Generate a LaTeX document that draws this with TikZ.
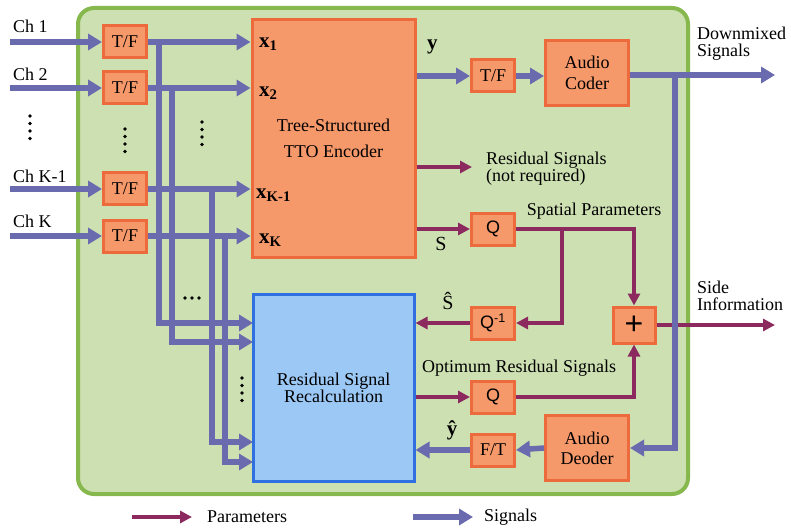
\documentclass[tikz,border=0pt]{standalone}
\usepackage{fontspec}
\setmainfont{Liberation Serif}
\newfontfamily\sansf{Liberation Sans}
\usetikzlibrary{arrows.meta}
\definecolor{sigc}{HTML}{6A6AAF}
\definecolor{parc}{HTML}{8C2A5F}
\definecolor{gfill}{HTML}{CDE0B2}
\definecolor{gborder}{HTML}{86B84E}
\definecolor{ofill}{HTML}{F5986A}
\definecolor{oborder}{HTML}{EC6A3C}
\definecolor{bfill}{HTML}{9CC8F5}
\definecolor{bborder}{HTML}{2F6FE0}
\begin{document}
\begin{tikzpicture}[x=1pt,y=-1pt,font=\fontsize{18}{17}\selectfont,
  sig/.style={draw=sigc,line width=5.5pt,-{Triangle[length=14pt,width=16pt]}},
  par/.style={draw=parc,line width=3.5pt,-{Triangle[length=12pt,width=12pt]}},
  obox/.style={draw=oborder,fill=ofill,line width=3pt,inner sep=0pt,minimum width=43pt,minimum height=32pt},
  bigbox/.style={draw=oborder,fill=ofill,line width=3pt,inner sep=0pt,minimum width=83pt,minimum height=65pt,align=center},
  lbl/.style={inner sep=0pt},
  mlbl/.style={inner sep=0pt,font=\fontsize{21}{21}\selectfont},
  dot/.style={fill=black,draw=none}]
\useasboundingbox (0,0) rectangle (791,529);
% container
\draw[gborder,fill=gfill,line width=4pt,rounded corners=16pt] (78,8) rectangle (688,494);

% main blocks
\node[draw=oborder,fill=ofill,line width=3pt,minimum width=163pt,minimum height=237pt,align=center,inner sep=0pt] (enc) at (333.5,138.5) {Tree-Structured\\[9pt]TTO Encoder};
\node[draw=bborder,fill=bfill,line width=3pt,minimum width=161pt,minimum height=187pt,align=center,inner sep=0pt] (res) at (333.5,387.5) {Residual Signal\\Recalculation};

% T/F input boxes
\node[obox] (tf1) at (125,42) {T/F};
\node[obox] (tf2) at (125,88) {T/F};
\node[obox] (tf3) at (125,189) {T/F};
\node[obox] (tf4) at (125,236) {T/F};

% channel inputs
\coordinate (in1) at (10,42);
\coordinate (in2) at (10,88);
\coordinate (in3) at (10,189);
\coordinate (in4) at (10,236);
\node[lbl,anchor=base west] (ch1) at (13,33) {Ch 1};
\node[lbl,anchor=base west] (ch2) at (13,81) {Ch 2};
\node[lbl,anchor=base west] (ch3) at (13,183) {Ch K-1};
\node[lbl,anchor=base west] (ch4) at (13,227) {Ch K};
\draw[sig] (in1) -- (tf1.west);
\draw[sig] (in2) -- (tf2.west);
\draw[sig] (in3) -- (tf3.west);
\draw[sig] (in4) -- (tf4.west);

% branches to residual block
\coordinate (v1) at (159,42);
\coordinate (v2) at (172,88);
\coordinate (v3) at (212,189);
\coordinate (v4) at (225,236);
\coordinate (r1) at (253,323);
\coordinate (r2) at (253,342);
\coordinate (r3) at (253,442);
\coordinate (r4) at (253,462);
\draw[sig] (v1) |- (r1);
\draw[sig] (v2) |- (r2);
\draw[sig] (v3) |- (r3);
\draw[sig] (v4) |- (r4);

% to encoder
\draw[sig] (tf1.east) -- (enc.west |- tf1.east);
\draw[sig] (tf2.east) -- (enc.west |- tf2.east);
\draw[sig] (tf3.east) -- (enc.west |- tf3.east);
\draw[sig] (tf4.east) -- (enc.west |- tf4.east);

\node[mlbl,anchor=west] (x1) at (259,44) {\textbf{x\textsubscript{1}}};
\node[mlbl,anchor=west] (x2) at (259,93) {\textbf{x\textsubscript{2}}};
\node[mlbl,anchor=west] (x3) at (256,195) {\textbf{x\textsubscript{K-1}}};
\node[mlbl,anchor=west] (x4) at (259,240) {\textbf{x\textsubscript{K}}};

% dots
\foreach \yy in {116,123.5,131,138.5} \fill[dot] (30,\yy) circle (1.8pt);
\foreach \yy in {129,136.5,144,151.5} \fill[dot] (125,\yy) circle (1.8pt);
\foreach \yy in {122,129.5,137,144.5} \fill[dot] (202,\yy) circle (1.8pt);
\foreach \yy in {378,385.5,393,400.5} \fill[dot] (242,\yy) circle (1.8pt);
\foreach \xx in {185,192,199} \fill[dot] (\xx,298) circle (1.8pt);

% downmix path
\node[obox] (tfy) at (493,76) {T/F};
\node[bigbox] (coder) at (587,73) {Audio\\[4pt]Coder};
\coordinate (dm) at (775,75);
\coordinate (dmb) at (675,75);
\draw[sig] (enc.east |- tfy.west) -- (tfy.west);
\draw[sig] (tfy.east) -- (coder.west |- tfy.east);
\draw[sig] (coder.east |- dm) -- (dm);
\node[mlbl,anchor=west] (ylab) at (427,47) {\textbf{y}};
\node[lbl,anchor=west,align=left] (dmtxt) at (697,44) {Downmixed\\Signals};

% residual signals (not required)
\coordinate (rsn) at (472,167);
\draw[par] (enc.east |- rsn) -- (rsn);
\node[lbl,anchor=west,align=left] (rsntxt) at (486,169) {Residual Signals\\(not required)};

% spatial parameters
\node[obox] (q1) at (493,229) {\sansf Q};
\node[lbl] (sptxt) at (594,211) {Spatial Parameters};
\node[lbl,font=\fontsize{20}{20}\selectfont] (slab) at (441,244) {S};
\draw[par] (enc.east |- q1.west) -- (q1.west);
\node[obox,minimum width=42pt,minimum height=36pt] (plus) at (634,325) {\sansf\fontsize{32}{32}\selectfont +};
\draw[par] (q1.east) -| (plus.north);
\node[obox] (qinv) at (493,323) {\sansf Q\textsuperscript{-1}};
\coordinate (sp) at (562,229);
\draw[par] (sp) |- (qinv.east);
\draw[par] (qinv.west) -- (res.east |- qinv.west);
\node[lbl,font=\fontsize{20}{20}\selectfont] (shat) at (448,301) {\^{S}};

% side information
\coordinate (si) at (775,325);
\draw[par] (plus.east) -- (si);
\node[lbl,anchor=west,align=left] (sitxt) at (697,296) {Side\\Information};

% optimum residual
\node[lbl] (ortxt) at (519,368) {Optimum Residual Signals};
\node[obox] (q2) at (493,397) {\sansf Q};
\draw[par] (res.east |- q2.west) -- (q2.west);
\draw[par] (q2.east) -| (plus.south);

% decoder path
\node[bigbox] (dec) at (587,448) {Audio\\[3pt]Deoder};
\node[obox] (ft) at (493,450) {F/T};
\draw[sig] (dmb) |- (dec.east);
\draw[sig] (dec.west) -- (ft.east);
\draw[sig] (ft.west) -- (res.east |- ft.west);
\node[mlbl] (yhat) at (452,430) {\textbf{\^{y}}};

% legend
\coordinate (lp1) at (132,517);
\coordinate (lp2) at (192,517);
\coordinate (ls1) at (413,517);
\coordinate (ls2) at (473,517);
\draw[par] (lp1) -- (lp2);
\draw[sig] (ls1) -- (ls2);
\node[lbl,anchor=west] (ptxt) at (207,517) {Parameters};
\node[lbl,anchor=west] (stxt) at (484,517) {Signals};
\end{tikzpicture}
\end{document}
